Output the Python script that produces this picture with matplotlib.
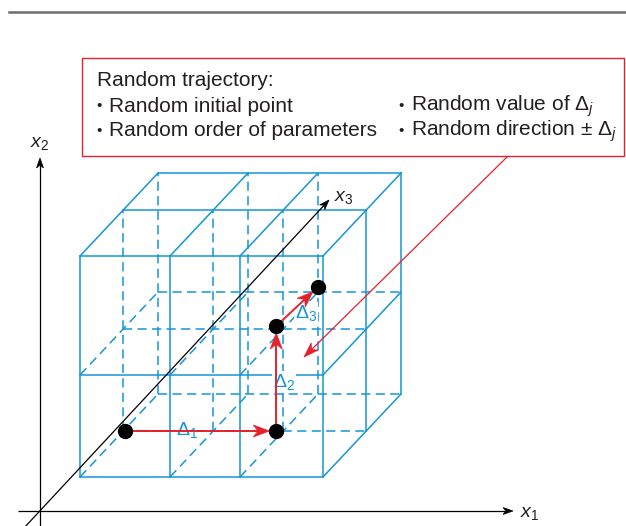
import matplotlib.pyplot as plt
from matplotlib.patches import Polygon, Rectangle
import numpy as np

plt.rcParams['font.family'] = ['Liberation Sans', 'DejaVu Sans']
plt.rcParams['mathtext.fontset'] = 'custom'
plt.rcParams['mathtext.rm'] = 'Liberation Sans'
plt.rcParams['mathtext.it'] = 'Liberation Sans:italic'

# grid edges of the parameter box (x1 across, x2 up, x3 into depth)
x1_edges = [0, 90, 160, 243]
x2_edges = [0, 102, 221]
x3_edges = [0, 46, 83]

# random trajectory points
traj_x1 = [2, 153, 153, 160]
traj_x2 = [0, 0, 105, 107]
traj_x3 = [46, 46, 46, 83]
step_labels = [r'$\Delta_1$', r'$\Delta_2$', r'$\Delta_3$']

box_title = 'Random trajectory:'
box_left = ['Random initial point', 'Random order of parameters']
box_right = [r'Random value of $\Delta_j$', r'Random direction $\pm$ $\Delta_j$']

BLUE = '#1596d4'
RED = '#e5212b'
TXT = '#231f20'


def proj(a, b, c):
    # oblique projection to pixel coords
    return 80 + a + 0.94 * c, 477 - b - c


def head(ax, tail, tip, color, L=10, W=7, z=5):
    tail = np.array(tail, float)
    tip = np.array(tip, float)
    u = (tip - tail) / np.linalg.norm(tip - tail)
    n = np.array([-u[1], u[0]])
    pts = [tip, tip - L * u + W / 2 * n, tip - 0.7 * L * u, tip - L * u - W / 2 * n]
    ax.add_patch(Polygon(pts, closed=True, fc=color, ec=color, lw=0.5, zorder=z))


def arrow(ax, p0, p1, color, lw, L, W, z=5):
    p0 = np.array(p0, float)
    p1 = np.array(p1, float)
    u = (p1 - p0) / np.linalg.norm(p1 - p0)
    end = p1 - 0.7 * L * u
    ax.plot([p0[0], end[0]], [p0[1], end[1]], color=color, lw=lw, zorder=z,
            solid_capstyle='butt')
    head(ax, p0, p1, color, L, W, z)


fig = plt.figure(figsize=(6.26, 5.26), dpi=100)
ax = fig.add_axes([0, 0, 1, 1])
ax.set_xlim(0, 626)
ax.set_ylim(526, 0)
ax.axis('off')

# top rule
ax.plot([9, 626], [12, 12], color='#6d6d6d', lw=1.8)

# grid lines of the box
nx, ny, nz = len(x1_edges) - 1, len(x2_edges) - 1, len(x3_edges) - 1
dash = dict(color=BLUE, lw=1.1, ls=(0, (6, 3.5)), zorder=2)
solid = dict(color=BLUE, lw=1.1, zorder=2)
for j in range(ny + 1):
    for k in range(nz + 1):
        xa, ya = proj(x1_edges[0], x2_edges[j], x3_edges[k])
        xb, yb = proj(x1_edges[-1], x2_edges[j], x3_edges[k])
        ax.plot([xa, xb], [ya, yb], **(solid if (k == 0 or j == ny) else dash))
for i in range(nx + 1):
    for k in range(nz + 1):
        xa, ya = proj(x1_edges[i], x2_edges[0], x3_edges[k])
        xb, yb = proj(x1_edges[i], x2_edges[-1], x3_edges[k])
        ax.plot([xa, xb], [ya, yb], **(solid if (k == 0 or i == nx) else dash))
for i in range(nx + 1):
    for j in range(ny + 1):
        xa, ya = proj(x1_edges[i], x2_edges[j], x3_edges[0])
        xb, yb = proj(x1_edges[i], x2_edges[j], x3_edges[-1])
        ax.plot([xa, xb], [ya, yb], **(solid if (j == ny or i == nx) else dash))

# coordinate axes
ox, oy = 40, 511
arrow(ax, (18, oy), (513, oy), 'black', 0.9, 10, 7)
arrow(ax, (ox, 530), (ox, 158), 'black', 0.9, 10, 7)
arrow(ax, (ox - 0.94 * 20, oy + 20), (329, 200), 'black', 0.9, 10, 7)
ax.text(520, 513, '$x_1$', fontsize=14, color=TXT, ha='left', va='center')
ax.text(40, 143, '$x_2$', fontsize=14, color=TXT, ha='center', va='center')
ax.text(334, 198, '$x_3$', fontsize=14, color=TXT, ha='left', va='center')

# trajectory
px = [proj(a, b, c)[0] for a, b, c in zip(traj_x1, traj_x2, traj_x3)]
py = [proj(a, b, c)[1] for a, b, c in zip(traj_x1, traj_x2, traj_x3)]
for s in range(len(px) - 1):
    p0 = np.array([px[s], py[s]])
    p1 = np.array([px[s + 1], py[s + 1]])
    u = (p1 - p0) / np.linalg.norm(p1 - p0)
    arrow(ax, p0, p1 - 7 * u, RED, 1.4, 16, 12, z=6)
ax.plot(px, py, 'o', ls='none', color='black', ms=10, zorder=7)

lab_pos = [(187, 430), (284, 382), (306, 313)]
for n, ((lx, ly), t) in enumerate(zip(lab_pos, step_labels)):
    bb = None if n == 0 else dict(fc='white', ec='none', pad=0.5)
    ax.text(lx, ly, t, fontsize=14, color=BLUE, ha='center', va='center', zorder=4,
            bbox=bb)

# callout box
ax.add_patch(Rectangle((82, 58), 542, 98, fc='white', ec=RED, lw=1.0, zorder=3))
ax.text(97, 81, box_title, fontsize=15, color=TXT, ha='left', va='center', zorder=4)
for col_x, items in ((97, box_left), (399, box_right)):
    for n, t in enumerate(items):
        y = 106 + 25 * n
        ax.text(col_x + 2, y, '\u2022', fontsize=11, color=TXT, ha='center', va='center', zorder=4)
        ax.text(col_x + 12, y, t, fontsize=15, color=TXT, ha='left', va='center', zorder=4)
arrow(ax, (508, 156), (304, 357), RED, 0.9, 15, 10, z=6)

plt.savefig('out.png', dpi=100)
